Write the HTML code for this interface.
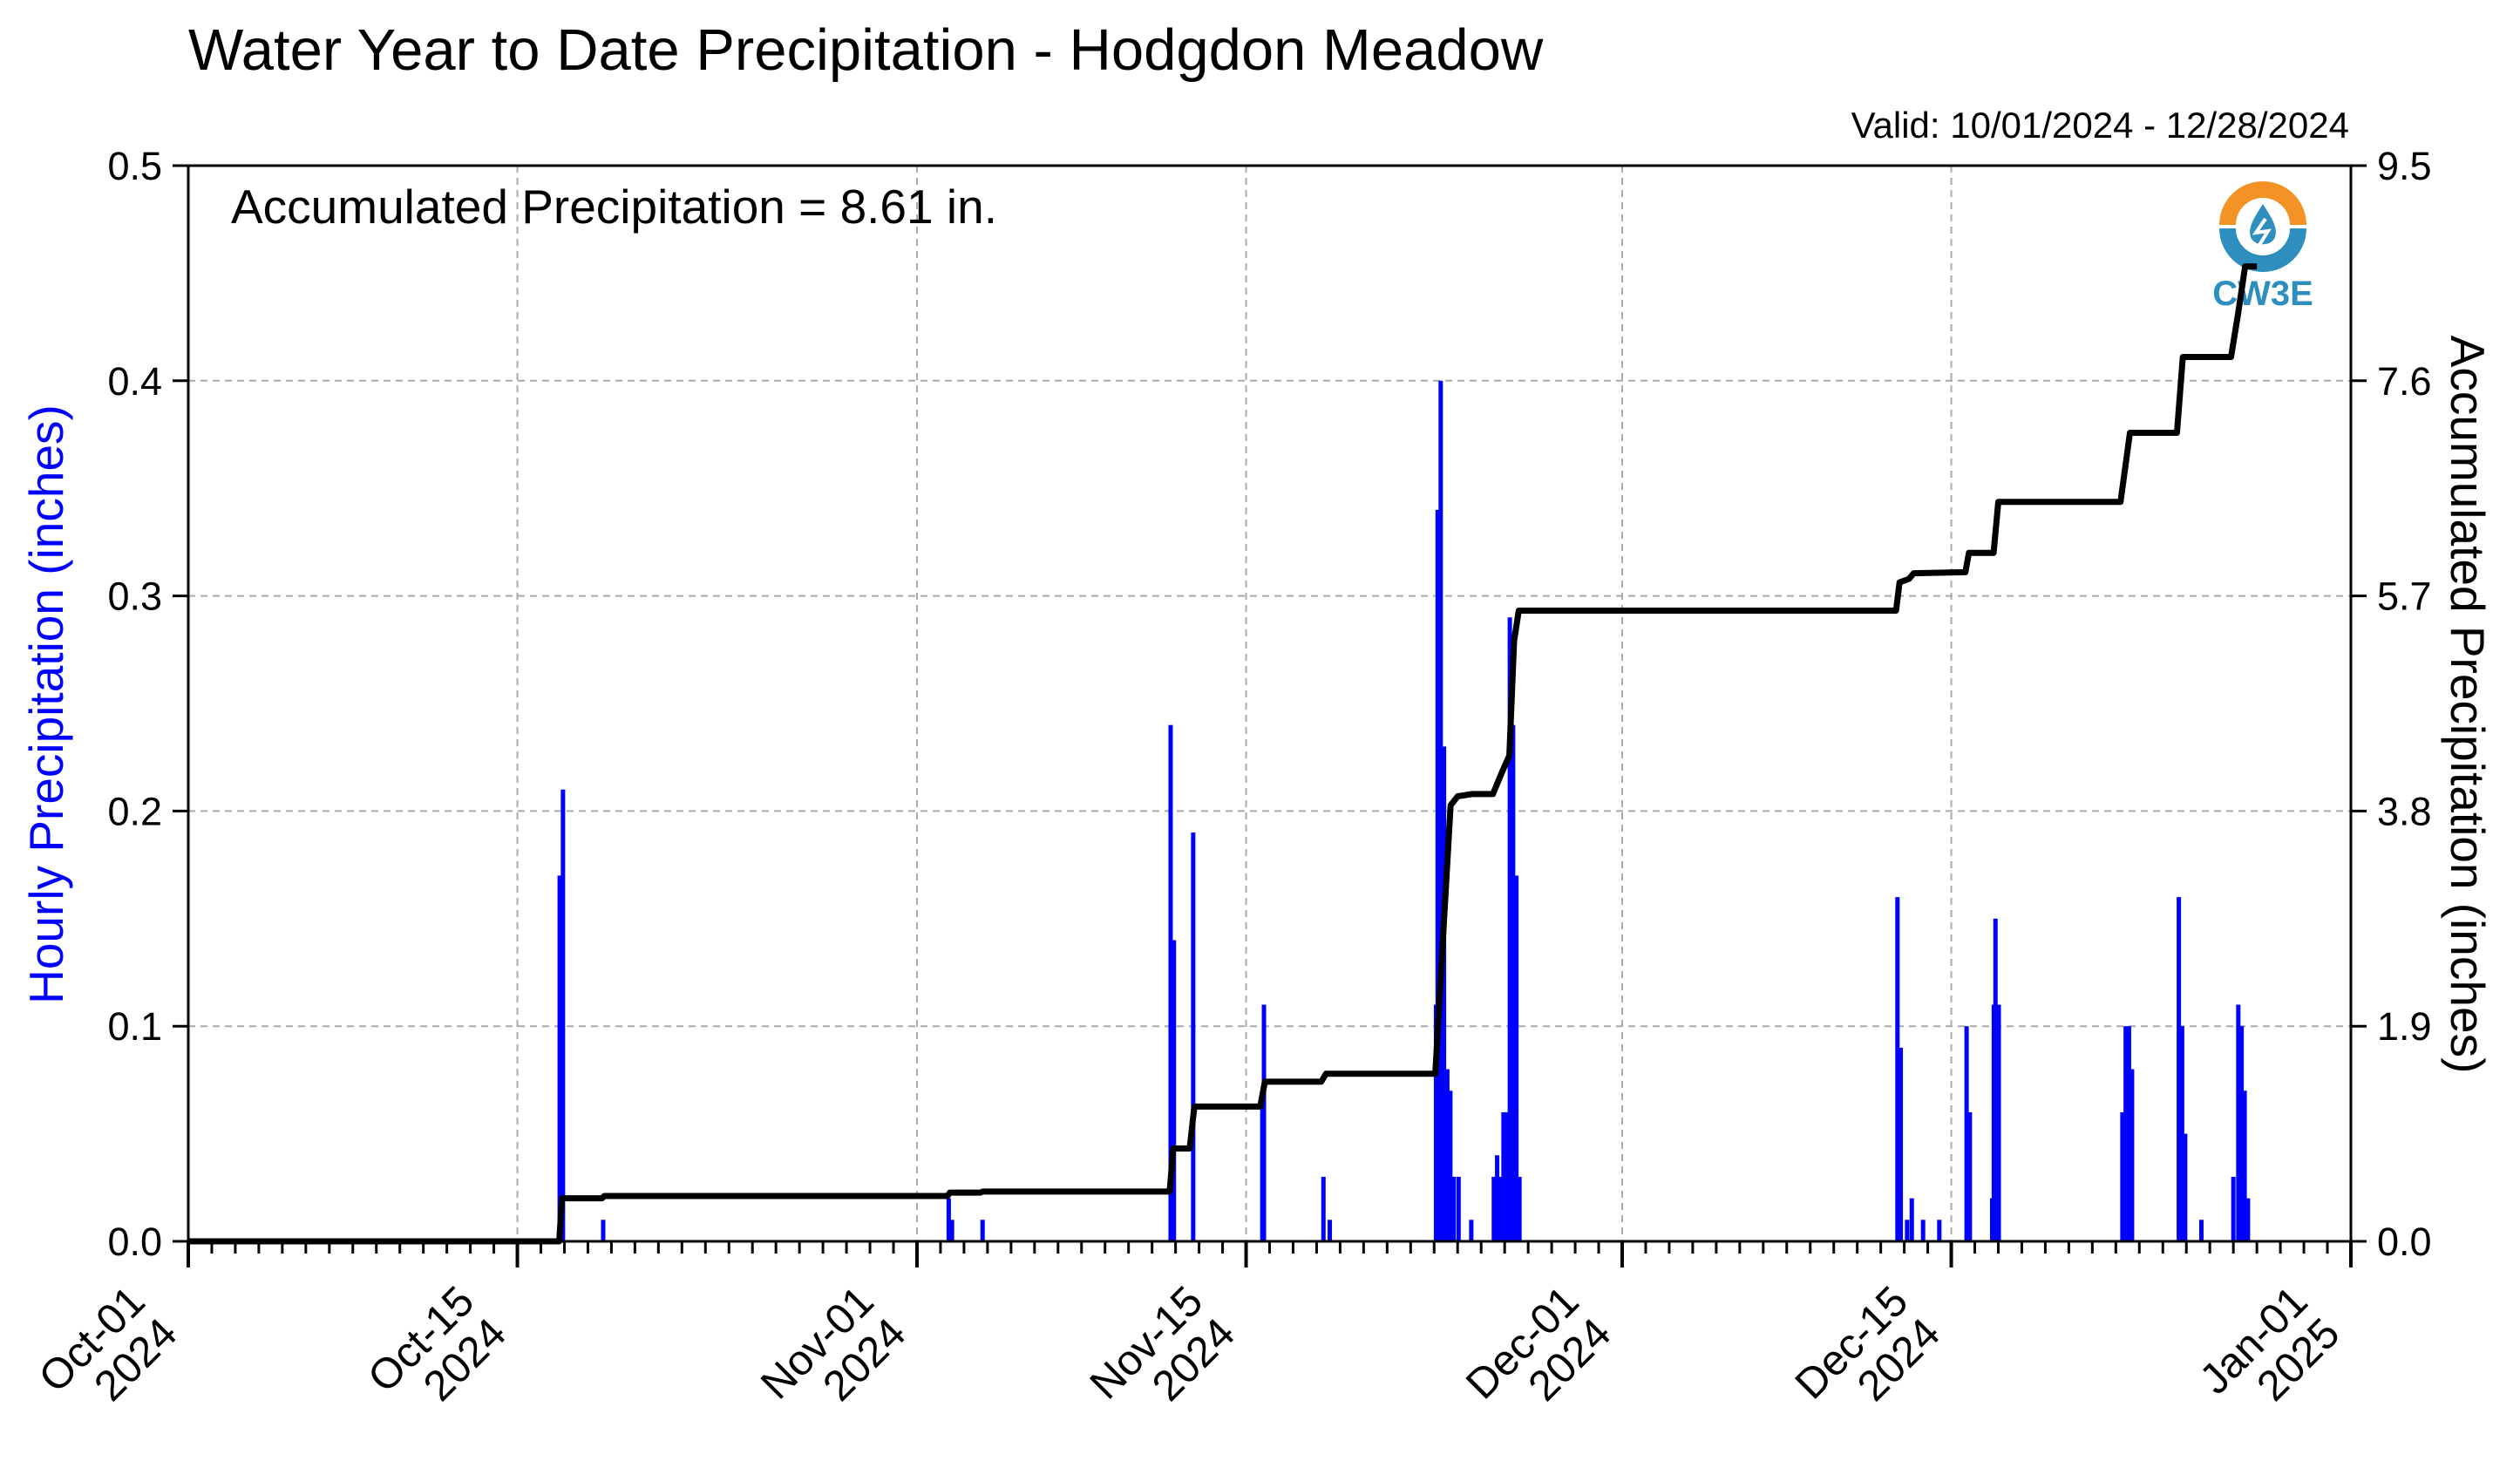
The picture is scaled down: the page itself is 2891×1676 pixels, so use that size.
<!DOCTYPE html>
<html><head><meta charset="utf-8"><style>
html,body{margin:0;padding:0;background:#fff;}
svg{display:block;font-family:"Liberation Sans",Arial,sans-serif;}
</style></head><body>
<svg id="chart" width="2891" height="1676" viewBox="0 0 2891 1676" xmlns="http://www.w3.org/2000/svg">
<rect width="2891" height="1676" fill="#fff"/>
<text x="216" y="80" font-size="67">Water Year to Date Precipitation - Hodgdon Meadow</text>
<text x="2695" y="158" font-size="42" text-anchor="end">Valid: 10/01/2024 - 12/28/2024</text>
<g id="grid"></g>
<g>
  <path d="M2546 258 A50 50 0 0 1 2646 258 L2627 258 A31 31 0 0 0 2565 258 Z" fill="#f39325"/>
  <path d="M2546 262 A50 50 0 0 0 2646 262 L2627 262 A31 31 0 0 1 2565 262 Z" fill="#2e8fbf"/>
  <path d="M2596 234 C2584 253 2579 261 2582 272 C2586 283 2606 283 2610 272 C2613 261 2608 253 2596 234 Z" fill="#2e8fbf"/>
  <path d="M2599 251 L2588 267 L2602 265 L2592 281" stroke="#fff" stroke-width="4" fill="none"/>
  <text x="2596" y="350" font-size="40" font-weight="bold" fill="#2e8fbf" text-anchor="middle">CW3E</text>
</g>
<g id="bars"></g>
<g id="line"></g>
<g id="axes"></g>
<text x="265" y="256" font-size="55">Accumulated Precipitation = 8.61 in.</text>
<text transform="translate(72,808) rotate(-90)" font-size="55" fill="#0000ff" text-anchor="middle">Hourly Precipitation (inches)</text>
<text transform="translate(2812,808) rotate(90)" font-size="55" text-anchor="middle">Accumulated Precipitation (inches)</text>
</svg>
<script>
const barDays=[15.80,15.94,17.65,32.35,32.49,33.79,41.79,41.93,42.75,45.69,45.76,48.29,48.56,53.08,53.15,53.28,53.42,53.56,53.69,53.83,54.04,54.58,55.54,55.68,55.82,55.95,56.09,56.22,56.36,56.50,56.63,72.71,72.85,73.12,73.32,73.80,74.49,75.65,75.79,76.74,76.81,76.88,77.02,82.28,82.42,82.56,82.69,84.68,84.82,84.95,85.64,87.00,87.21,87.35,87.48,87.62];
const barVals=[0.17,0.21,0.01,0.02,0.01,0.01,0.24,0.14,0.19,0.07,0.11,0.03,0.01,0.11,0.34,0.40,0.23,0.08,0.07,0.03,0.03,0.01,0.03,0.04,0.03,0.06,0.06,0.29,0.24,0.17,0.03,0.16,0.09,0.01,0.02,0.01,0.01,0.10,0.06,0.02,0.11,0.15,0.11,0.06,0.10,0.10,0.08,0.16,0.10,0.05,0.01,0.03,0.11,0.10,0.07,0.02];
const accDays=[0,15.78,15.9,17.6,17.7,32.3,32.4,33.7,33.8,41.75,41.9,42.6,42.8,45.6,45.8,48.2,48.4,53.05,53.3,53.7,54.0,54.6,55.5,55.9,56.2,56.4,56.6,72.65,72.8,73.2,73.4,75.6,75.75,76.8,77.0,82.2,82.6,84.6,84.85,86.9,87.2,87.5,88.0];
const accVals=[0,0,0.38,0.38,0.40,0.40,0.43,0.43,0.44,0.44,0.82,0.82,1.19,1.19,1.41,1.41,1.48,1.48,2.4,3.85,3.93,3.95,3.95,4.15,4.29,5.3,5.57,5.57,5.82,5.85,5.9,5.91,6.08,6.08,6.53,6.53,7.14,7.14,7.81,7.81,8.19,8.61,8.61];
const leftTicks=["0.0","0.1","0.2","0.3","0.4","0.5"];
const rightTicks=["0.0","1.9","3.8","5.7","7.6","9.5"];
const majorDays=[0,14,31,45,61,75,92];
const majorLabels=[["Oct-01","2024"],["Oct-15","2024"],["Nov-01","2024"],["Nov-15","2024"],["Dec-01","2024"],["Dec-15","2024"],["Jan-01","2025"]];

const L=216,R=2697,T=190,B=1424,NS="http://www.w3.org/2000/svg";
const xS=d=>L+d*(R-L)/92;
const yL=v=>B-v/0.5*(B-T);
const yR=v=>B-v/9.5*(B-T);
function mk(tag,attrs,parent){const e=document.createElementNS(NS,tag);for(const k in attrs)e.setAttribute(k,attrs[k]);parent.appendChild(e);return e;}
const grid=document.getElementById('grid'),bars=document.getElementById('bars'),line=document.getElementById('line'),axes=document.getElementById('axes');
leftTicks.forEach((t,i)=>{const y=yL(+t);
 if(i>0){const g=mk('line',{x1:L,x2:R,y1:y,y2:y,stroke:'#aaa','stroke-width':2,'stroke-dasharray':'8,6'},grid);
 
 }
 const tk=mk('line',{x1:L-18,x2:L,y1:y,y2:y,stroke:'#000','stroke-width':3},axes);
 
 
 const tx=mk('text',{x:L-30,y:y+16,'font-size':45,'text-anchor':'end'},axes);tx.textContent=t;
 
 });
rightTicks.forEach(t=>{const y=yR(+t);
 const tk=mk('line',{x1:R,x2:R+18,y1:y,y2:y,stroke:'#000','stroke-width':3},axes);
 
 
 const tx=mk('text',{x:R+30,y:y+16,'font-size':45},axes);tx.textContent=t;
 
 });
for(let d=0;d<=92;d++){const x=xS(d);const mj=majorDays.includes(d);
 const tk=mk('line',{x1:x,x2:x,y1:B,y2:B+(mj?30:14),stroke:'#000','stroke-width':mj?4:3},axes);
 
 }
majorDays.forEach((d,i)=>{const x=xS(d);
 if(d>0&&d<92){const g=mk('line',{x1:x,x2:x,y1:T,y2:B,stroke:'#aaa','stroke-width':2,'stroke-dasharray':'8,6'},grid);
 
 }
 const tx=mk('text',{transform:`translate(${x-47},${B+72}) rotate(-45)`,'font-size':49,'text-anchor':'end'},axes);
 
 
 const s1=mk('tspan',{x:0,y:0},tx);s1.textContent=majorLabels[i][0];
 const s2=mk('tspan',{x:0,y:52},tx);s2.textContent=majorLabels[i][1];});
mk('line',{x1:L,x2:R,y1:B,y2:B,stroke:'#0000ff','stroke-width':3},bars);
barDays.forEach((d,i)=>{const y=yL(barVals[i]);
 const r=mk('rect',{x:xS(d)-2.5,y:y,width:5,height:B-y,fill:'#0000ff'},bars);
 
 });
const pts=accDays.map((d,i)=>xS(d)+','+yR(accVals[i])).join(' ');
const pl=mk('polyline',{points:pts,fill:'none',stroke:'#000','stroke-width':7,'stroke-linejoin':'round'},line);


const fr=mk('rect',{x:L,y:T,width:R-L,height:B-T,fill:'none',stroke:'#000','stroke-width':3},axes);


</script>
</body></html>
